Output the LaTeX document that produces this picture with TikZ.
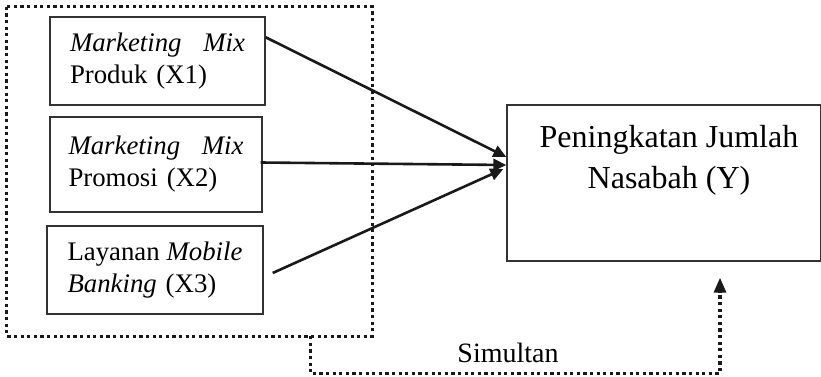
\documentclass[tikz,border=0pt]{standalone}
\usepackage{fontspec}
\setmainfont{Liberation Serif}
\usetikzlibrary{arrows.meta,calc}
\begin{document}
\begin{tikzpicture}[x=1pt,y=-1pt,
  varbox/.style={draw=black!80,line width=1.4pt,inner sep=0pt,align=left,
     text width=175pt,font=\fontsize{26.8}{32}\selectfont},
  ybox/.style={draw=black!80,line width=1.4pt,inner sep=0pt},
  dotline/.style={line width=3.2pt,dash pattern=on 3.2pt off 3.4pt,black!90},
  arr/.style={line width=2.6pt,black!90,-{Triangle[length=13pt,width=12pt]}},
  lbl/.style={font=\fontsize{28}{32}\selectfont}]
\useasboundingbox (0,0) rectangle (821,377);
\node[draw=none,minimum width=365pt,minimum height=329pt,inner sep=0pt] (grp) at (189.5,171.5) {};
\draw[dotline] (grp.north west) rectangle (grp.south east);
\node[varbox,minimum width=215pt,minimum height=88pt] (X1) at (157.5,61)
  {\textit{Marketing}\hfill\textit{Mix}\\Produk (X1)};
\node[varbox,minimum width=212pt,minimum height=95pt] (X2) at (156,164.5)
  {\textit{Marketing}\hfill\textit{Mix}\\Promosi (X2)};
\node[varbox,minimum width=216pt,minimum height=88pt] (X3) at (155,270)
  {Layanan\hfill\textit{Mobile}\\\textit{Banking} (X3)};
\node[ybox,minimum width=314pt,minimum height=156pt] (Y) at (664,183) {};
\node[align=center,inner sep=0pt,font=\fontsize{32}{41}\selectfont] (ytxt) at (669,160)
  {Peningkatan Jumlah\\Nasabah (Y)};
\draw[arr] ([yshift=-21pt]X1.north east) -- ([yshift=26pt]Y.west);
\draw[arr] ([xshift=-2pt,yshift=2pt]X2.east) -- ([yshift=18pt]Y.west);
\draw[arr] ([xshift=9pt,yshift=-3pt]X3.east) -- ([xshift=-3pt,yshift=14pt]Y.west);
\draw[dotline,-{Triangle[length=15pt,width=12pt]}] ([xshift=-62pt]grp.south east) -- ++(0,37)
  -| ([xshift=56pt,yshift=-16pt]Y.south);
\node[lbl,anchor=base,inner sep=0pt] (sim) at (508,362) {Simultan};
\end{tikzpicture}
\end{document}
